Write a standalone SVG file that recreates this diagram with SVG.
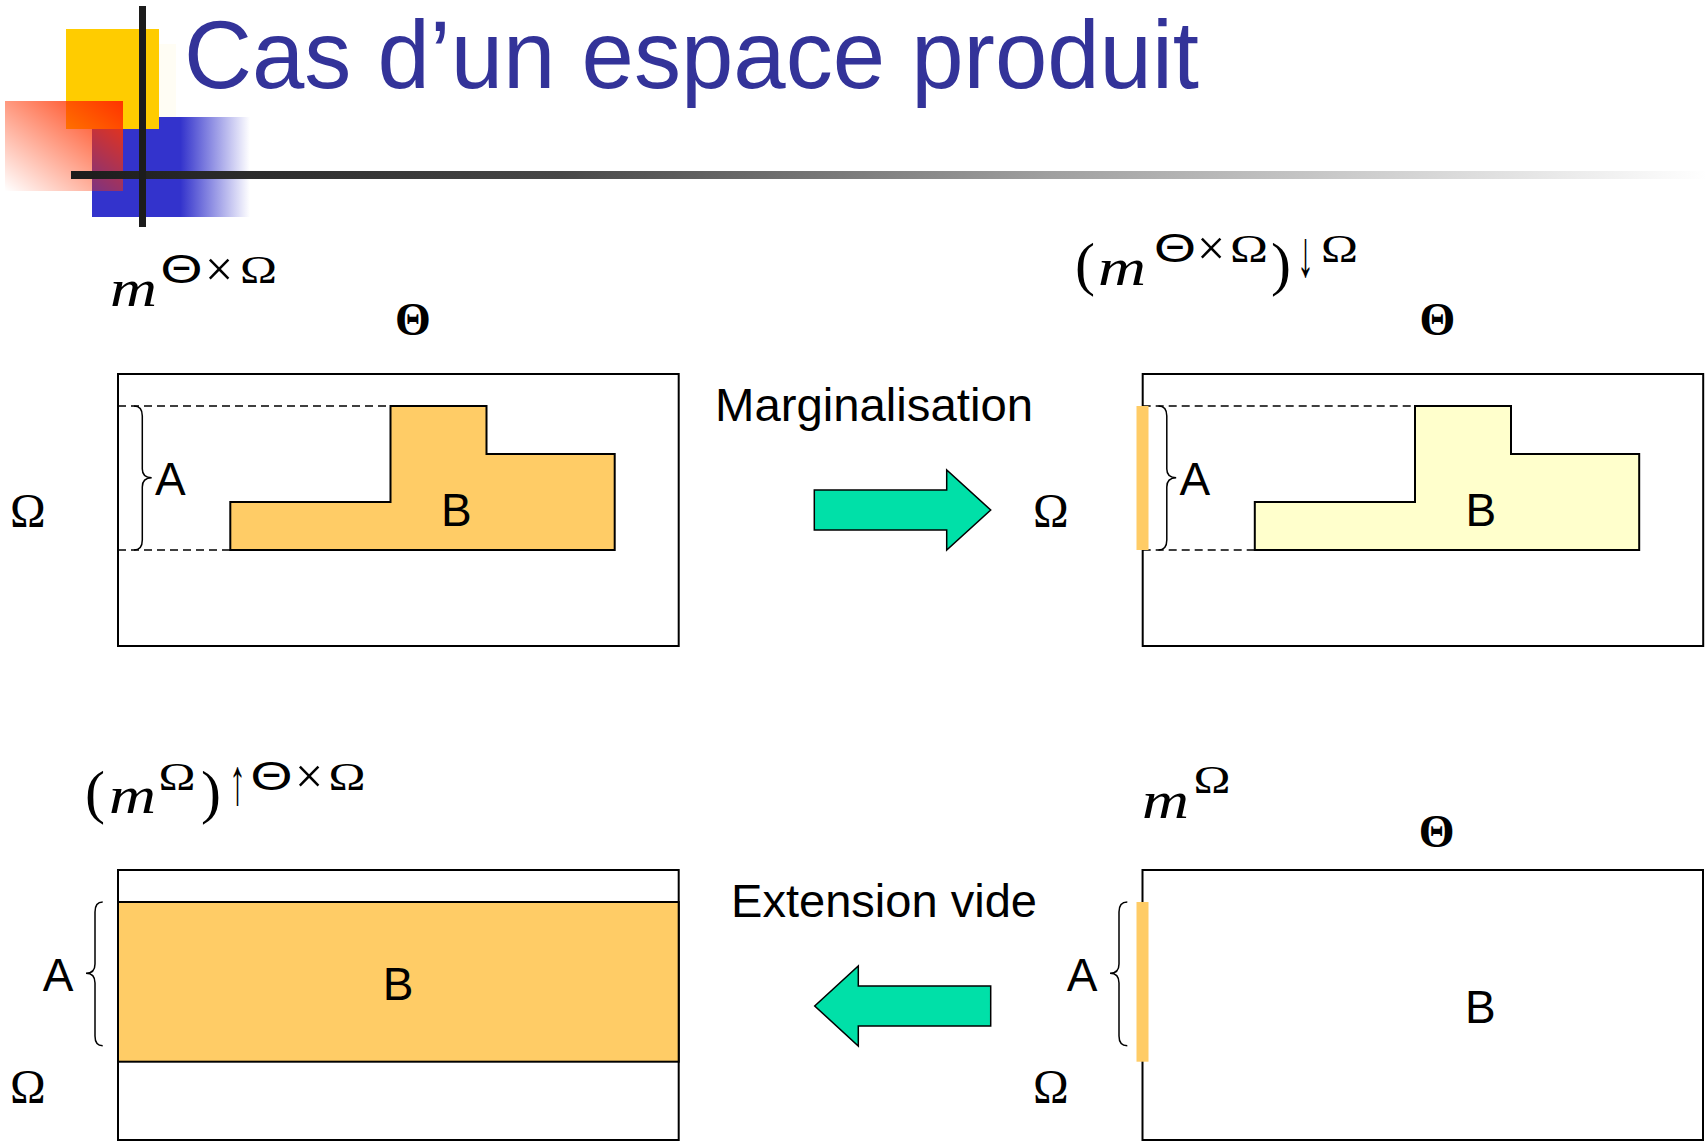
<svg xmlns="http://www.w3.org/2000/svg" width="1707" height="1142" viewBox="0 0 1707 1142">
<defs>
<style>
.box{fill:#fff;stroke:#000;stroke-width:2}
.shape{stroke:#000;stroke-width:2}
.dash{stroke:#000;stroke-width:1.5;stroke-dasharray:8,5;fill:none}
.brace{fill:none;stroke:#000;stroke-width:1.5}
.bar{fill:#FFCC66}
.arrow{fill:#00E0A8;stroke:#000;stroke-width:1.5}
.lbl{font-family:"Liberation Sans",Arial,sans-serif;font-size:46px;fill:#000}
.op{font-family:"Liberation Sans",Arial,sans-serif;font-size:47px;fill:#000}
.th{font-family:"Liberation Serif","Times New Roman",serif;font-weight:bold;font-size:46px;text-anchor:middle}
.om{font-family:"Liberation Serif","Times New Roman",serif;font-size:48px}
.mi{font-family:"Liberation Serif","Times New Roman",serif;font-style:italic;font-size:52px}
.ms{font-family:"Liberation Sans",Arial,sans-serif;font-size:40px}
.mr{font-family:"Liberation Serif","Times New Roman",serif;font-size:41px}
.mx{font-family:"Liberation Serif","Times New Roman",serif;font-size:50px}
.pr{font-family:"Liberation Serif","Times New Roman",serif;font-size:60px}
.ar{font-family:"Liberation Serif","Times New Roman",serif;font-size:40px}
</style>
<linearGradient id="redG" x1="1" y1="0" x2="0" y2="1">
<stop offset="0" stop-color="#FF3300" stop-opacity="1"/>
<stop offset="1" stop-color="#FF3300" stop-opacity="0"/>
</linearGradient>
<linearGradient id="blueG" x1="0" y1="0" x2="1" y2="0">
<stop offset="0.56" stop-color="#3333CC" stop-opacity="1"/>
<stop offset="1" stop-color="#3333CC" stop-opacity="0"/>
</linearGradient>
<linearGradient id="lineG" x1="0" y1="0" x2="1" y2="0">
<stop offset="0" stop-color="#1c1c1c"/>
<stop offset="0.3" stop-color="#484848"/>
<stop offset="0.6" stop-color="#a0a0a0"/>
<stop offset="1" stop-color="#ffffff"/>
</linearGradient>
</defs>

<g id="header">
<rect x="92" y="117" width="158" height="100" fill="url(#blueG)"/>
<rect x="159" y="44" width="17" height="73" fill="#FFFDF4"/>
<rect x="66" y="29" width="93" height="100" fill="#FFCC00"/>
<rect x="5" y="101" width="118" height="90" fill="url(#redG)"/>
<rect x="71" y="171" width="1636" height="8" fill="url(#lineG)"/>
<rect x="139" y="6" width="7" height="221" fill="#1c1c1c"/>
<text x="184" y="88" font-family="Liberation Sans, Arial, sans-serif" font-size="96" fill="#333399" textLength="1015" lengthAdjust="spacingAndGlyphs">Cas d’un espace produit</text>
</g>

<g id="box-joint">
<rect class="box" x="118" y="374" width="560.7" height="272"/>
<polygon class="shape" fill="#FFCC66" points="230.3,550 230.3,502 390.5,502 390.5,406 486.5,406 486.5,454 614.7,454 614.7,550"/>
<line class="dash" x1="118" y1="406" x2="390.5" y2="406"/>
<line class="dash" x1="118" y1="550" x2="230.3" y2="550"/>
<path class="brace" d="M134,406 Q142.3,406 142.3,416 L142.3,469 Q142.3,477.7 151.7,477.7 Q142.3,477.7 142.3,487 L142.3,540 Q142.3,550 134,550"/>
<text class="lbl" x="155" y="495">A</text>
<text class="lbl" x="441" y="526">B</text>
<text class="th" x="413" y="335">Θ</text>
<text class="om" x="10" y="527">Ω</text>
<text class="mi" x="110" y="305.5" textLength="47" lengthAdjust="spacingAndGlyphs">m</text>
<text class="ms" x="160.5" y="283" textLength="42" lengthAdjust="spacingAndGlyphs">Θ</text>
<text class="mx" x="205" y="286">×</text>
<text class="mr" x="240" y="283" textLength="37" lengthAdjust="spacingAndGlyphs">Ω</text>
</g>

<g id="box-marginal">
<rect class="box" x="1142.7" y="374" width="560.5" height="272"/>
<polygon class="shape" fill="#FFFFCC" points="1254.8,550 1254.8,502 1415,502 1415,406 1511,406 1511,454 1639.2,454 1639.2,550"/>
<line class="dash" x1="1142.7" y1="406" x2="1415" y2="406"/>
<line class="dash" x1="1142.7" y1="550" x2="1254.8" y2="550"/>
<rect class="bar" x="1136.5" y="406" width="12" height="144"/>
<path class="brace" d="M1158.5,406 Q1166.8,406 1166.8,416 L1166.8,469 Q1166.8,477.7 1176.2,477.7 Q1166.8,477.7 1166.8,487 L1166.8,540 Q1166.8,550 1158.5,550"/>
<text class="lbl" x="1179.5" y="495">A</text>
<text class="lbl" x="1465.5" y="526">B</text>
<text class="th" x="1437.5" y="335">Θ</text>
<text class="om" x="1033" y="527">Ω</text>
<text class="pr" x="1075" y="284">(</text>
<text class="mi" x="1098" y="285" textLength="48" lengthAdjust="spacingAndGlyphs">m</text>
<text class="ms" x="1154" y="262" textLength="42" lengthAdjust="spacingAndGlyphs">Θ</text>
<text class="mx" x="1197" y="265">×</text>
<text class="mr" x="1230" y="262" textLength="38" lengthAdjust="spacingAndGlyphs">Ω</text>
<text class="pr" x="1271" y="284">)</text>
<text class="ar" transform="translate(1297,276) scale(0.85,1.65)">↓</text>
<text class="mr" x="1321" y="262" textLength="37" lengthAdjust="spacingAndGlyphs">Ω</text>
</g>

<g id="box-extension">
<rect class="box" x="118" y="870" width="560.7" height="270"/>
<rect class="shape" fill="#FFCC66" x="118" y="902" width="560.7" height="159.7"/>
<path class="brace" d="M102.7,902 Q95,902 95,912 L95,964 Q95,973.3 86,973.3 Q95,973.3 95,983 L95,1036 Q95,1045.7 102.7,1045.7"/>
<text class="lbl" x="42.7" y="990.7">A</text>
<text class="lbl" x="382.7" y="1000">B</text>
<text class="om" x="10" y="1102.5">Ω</text>
<text class="pr" x="85" y="812">(</text>
<text class="mi" x="109" y="812.7" textLength="47" lengthAdjust="spacingAndGlyphs">m</text>
<text class="mr" x="158.5" y="790" textLength="37" lengthAdjust="spacingAndGlyphs">Ω</text>
<text class="pr" x="201" y="812">)</text>
<text class="ar" transform="translate(229,804) scale(0.85,1.65)">↑</text>
<text class="ms" x="250.5" y="790" textLength="42" lengthAdjust="spacingAndGlyphs">Θ</text>
<text class="mx" x="295" y="793">×</text>
<text class="mr" x="328.5" y="790" textLength="37" lengthAdjust="spacingAndGlyphs">Ω</text>
</g>

<g id="box-omega">
<rect class="box" x="1142.5" y="870" width="560.5" height="270"/>
<rect class="bar" x="1136.5" y="902" width="12" height="159.7"/>
<path class="brace" d="M1127.3,902 Q1119,902 1119,912 L1119,964 Q1119,973.3 1110,973.3 Q1119,973.3 1119,983 L1119,1036 Q1119,1045.7 1127.3,1045.7"/>
<text class="lbl" x="1066.7" y="990.7">A</text>
<text class="lbl" x="1465" y="1023.3">B</text>
<text class="th" x="1436.7" y="846.5">Θ</text>
<text class="om" x="1033" y="1102.5">Ω</text>
<text class="mi" x="1142" y="818.3" textLength="47" lengthAdjust="spacingAndGlyphs">m</text>
<text class="mr" x="1193.5" y="793" textLength="37" lengthAdjust="spacingAndGlyphs">Ω</text>
</g>

<g id="connectors">
<polygon class="arrow" points="814.3,490 946.7,490 946.7,470 990.7,510 946.7,550 946.7,530 814.3,530"/>
<text class="op" x="715" y="421" textLength="318" lengthAdjust="spacingAndGlyphs">Marginalisation</text>
<polygon class="arrow" points="990.7,986 858.3,986 858.3,966 814.7,1006 858.3,1046 858.3,1026 990.7,1026"/>
<text class="op" x="731" y="917" textLength="306" lengthAdjust="spacingAndGlyphs">Extension vide</text>
</g>
</svg>
